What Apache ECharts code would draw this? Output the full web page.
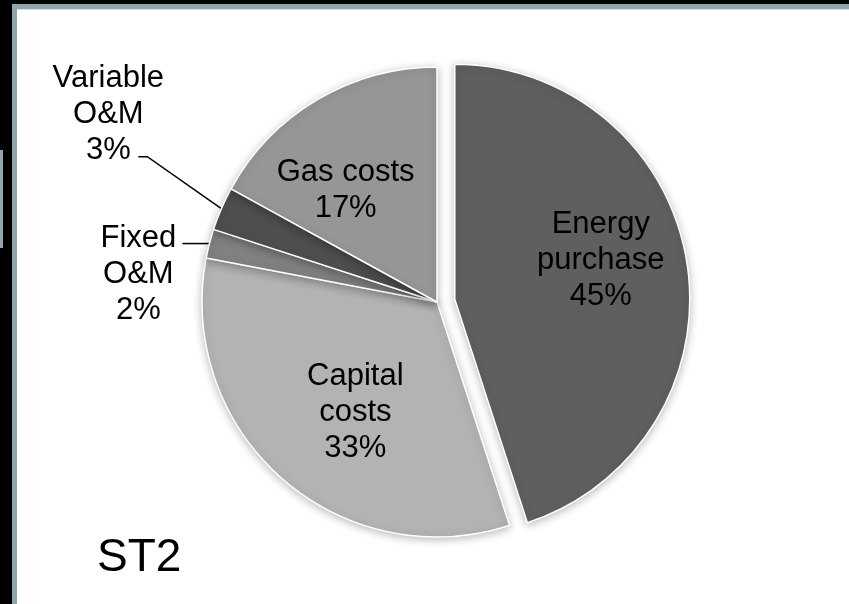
<!DOCTYPE html>
<html>
<head>
<meta charset="utf-8">
<style>
  html, body { margin: 0; padding: 0; background: #ffffff; }
  #chart { width: 849px; height: 604px; }
</style>
<script src="https://cdn.jsdelivr.net/npm/echarts@6/dist/echarts.min.js"></script>
</head>
<body>
<div id="chart"></div>
<script>
// Cost breakdown for scenario ST2 (shares in percent)
const categories = ['Energy\npurchase', 'Capital\ncosts', 'Fixed\nO&M', 'Variable\nO&M', 'Gas costs'];
const shares = [45, 33, 2, 3, 17];
const sliceColors = ['#5f5f5f', '#b3b3b3', '#818181', '#4e4e4e', '#969696'];
const chartTitle = 'ST2';

// Label placement: inside labels are nudged from their default spot,
// outside labels sit at the end of a bent leader line.
const insideNudge = { 1: [-2, 20], 4: [-30, -8] };
const outsideLabel = {
  3: { bend: [-74, -52], end: [-83, -52], text: [-113, -94] },
  2: { bend: [-12, 0], end: [-27, 0], text: [-71, 31] }
};

const chart = echarts.init(document.getElementById('chart'), null, { renderer: 'canvas' });

const data = categories.map((name, i) => {
  const item = {
    name: name,
    value: shares[i],
    itemStyle: { color: sliceColors[i] }
  };
  if (i === 0) {
    // pulled-out slice; its label block is shifted with padding and a spacer row
    item.selected = true;
    item.label = {
      padding: [0, 0, 0, 54],
      formatter: p => p.name + '\n' + p.value + '%\n{gap| }',
      rich: { gap: { height: 40, lineHeight: 40 } }
    };
  }
  if (outsideLabel[i]) {
    item.label = { position: 'outside' };
    item.labelLine = { show: true };
  }
  return item;
});

chart.setOption({
  animation: false,
  backgroundColor: '#ffffff',
  graphic: [
    // frame along the top and left edges
    { type: 'rect', shape: { x: 0, y: 0, width: 849, height: 4 }, style: { fill: '#000000' }, silent: true },
    { type: 'rect', shape: { x: 0, y: 0, width: 12, height: 604 }, style: { fill: '#000000' }, silent: true },
    { type: 'rect', shape: { x: 12, y: 4, width: 837, height: 5 }, style: { fill: '#8ea8aa' }, silent: true },
    { type: 'rect', shape: { x: 12, y: 4, width: 5, height: 600 }, style: { fill: '#8ea8aa' }, silent: true },
    { type: 'rect', shape: { x: 17, y: 9, width: 832, height: 1 }, style: { fill: '#d3dede' }, silent: true },
    { type: 'rect', shape: { x: 0, y: 150, width: 3, height: 98 }, style: { fill: '#8ea8aa' }, silent: true },
    {
      type: 'text', left: 97, top: 535, silent: true,
      style: { text: chartTitle, fill: '#000000', font: '46px "Liberation Sans", Arial, sans-serif' }
    }
  ],
  series: [{
    type: 'pie',
    center: [437, 302],
    radius: 235,
    startAngle: 90,
    clockwise: true,
    selectedMode: 'single',
    selectedOffset: 18,
    avoidLabelOverlap: false,
    silent: true,
    itemStyle: {
      borderColor: '#ffffff',
      borderWidth: 1.5,
      shadowBlur: 8,
      shadowColor: 'rgba(0,0,0,0.25)',
      shadowOffsetY: 2
    },
    select: { itemStyle: { borderColor: '#ffffff', borderWidth: 1.5 } },
    label: {
      show: true,
      position: 'inside',
      color: '#000000',
      fontFamily: '"Liberation Sans", Arial, sans-serif',
      fontSize: 31,
      lineHeight: 36,
      align: 'center',
      formatter: p => p.name + '\n' + p.value + '%'
    },
    labelLine: {
      show: false,
      length: 40,
      length2: 10,
      lineStyle: { color: '#000000', width: 1.5 }
    },
    labelLayout: function (params) {
      const i = params.dataIndex;
      const r = params.labelRect;
      if (insideNudge[i]) {
        const d = insideNudge[i];
        return {
          x: r.x + r.width / 2 + d[0],
          y: r.y + r.height / 2 + d[1],
          align: 'center',
          verticalAlign: 'middle'
        };
      }
      if (outsideLabel[i] && params.labelLinePoints) {
        const o = outsideLabel[i];
        const p0 = params.labelLinePoints[0];
        return {
          x: p0[0] + o.text[0],
          y: p0[1] + o.text[1],
          align: 'center',
          verticalAlign: 'middle',
          labelLinePoints: [
            [p0[0], p0[1]],
            [p0[0] + o.bend[0], p0[1] + o.bend[1]],
            [p0[0] + o.end[0], p0[1] + o.end[1]]
          ]
        };
      }
      return {};
    },
    data: data
  }]
});
</script>
</body>
</html>
